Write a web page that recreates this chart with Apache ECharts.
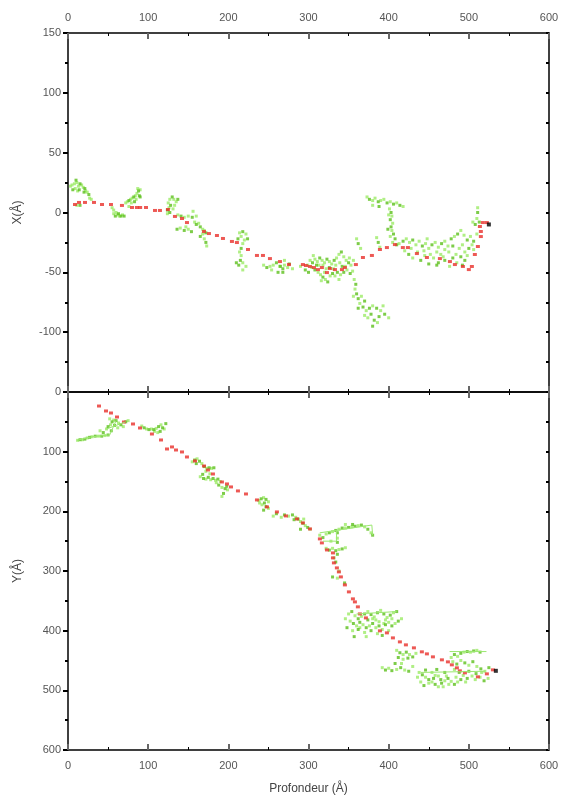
<!DOCTYPE html>
<html><head><meta charset="utf-8">
<script src="https://cdn.jsdelivr.net/npm/echarts@6/dist/echarts.min.js"></script>
<style>html,body{margin:0;padding:0;background:#fff}#c{width:563px;height:796px}</style>
</head><body><div id="c"></div>
<script>
// ---- axis ticks ----
const xTicks = [0, 100, 200, 300, 400, 500, 600];
const topYRange = [-150, 150];
const botYRange = [0, 600];

// ---- top panel (X vs depth) ----
const topRed = [[8.7,6.7],[13.7,8.4],[21.2,8.4],[32.4,8.4],[42.4,6.7],[53.6,6.7],[67.3,5.9],[79.8,4.2],[86,4.2],[90,4.2],[97.3,4.2],[108.5,1.7],[114.7,1.7],[124.7,2.5],[133.4,-3.3],[142.2,-5],[148.4,-8.4],[169.6,-15.9],[175.8,-17.6],[185.8,-19.2],[193.3,-21.7],[204.5,-24.2],[210.7,-25.1],[224.5,-30.9],[235.7,-35.9],[243.2,-35.9],[251.9,-38.5],[264.4,-41],[275.6,-43.5],[293,-43.5],[296.8,-44.3],[301.8,-45.1],[306.8,-46],[311.8,-47.7],[316.7,-46],[323,-50.2],[326.7,-46.8],[333,-47.7],[341.7,-47.7],[345.4,-46],[359.1,-43.5],[367.9,-37.6],[379.1,-35.9],[389.1,-30.9],[397.8,-29.3],[407.8,-26.8],[417.7,-29.3],[424,-29.3],[435.2,-34.3],[447.7,-37.6],[463.9,-38.5],[476.4,-41],[482.6,-43.5],[492.6,-45.1],[500,-47.7],[503.8,-45.1],[507.5,-35.1],[511.3,-28.4],[515,-20.1],[515,-15.9],[513.8,-11.7],[517.5,-8.4],[522.5,-8.4]];
const topEnd = [[525,-10]];
const topGreenLight = [[3,22],[5,23],[8,24],[11,25],[13,22],[17,23],[19,21],[22,18],[24,17],[27,12],[29,11],[9,20],[12,18],[11,6],
[55,4],[57,2],[57,-1],[62,-2],[64,-3],[68,-2],[60,0],
[72,8],[74,9],[78,11],[80,12],[84,14],[86,16],[90,19],[85,11],[79,8],[87,20],[76,5],
[125,8],[127,11],[132,11],[135,9],[133,6],[126,4],[124,-1],[131,3],
[137,-2],[145,-4],[150,-3],[160,-3],[156,1],[158,-8],[163,-9],[168,-14],[170,-15],[168,-18],[170,-22],[173,-28],[140,-13],[150,-14],[147,-12],
[214,-17],[222,-18],[216,-20],[220,-23],[218,-26],[214,-33],[216,-36],[218,-42],[218,-48],[222,-45],
[244,-44],[252,-45],[256,-44],[264,-45],[270,-44],[274,-46],[254,-48],
[302,-40],[308,-39],[311,-41],[317,-40],[320,-42],[326,-41],[329,-43],[335,-38],[338,-35],[344,-37],[347,-40],[353,-44],[356,-40],[304,-46],[312,-50],[315,-52],[321,-56],[327,-53],[333,-53],[340,-52],[348,-48],[355,-49],[318,-44],[334,-44],[299,-44],[290,-45],[270,-40],[280,-47],[360,-22],[365,-30],[385,-21],[389,-29],
[306,-36],[313,-44],[322,-47],[331,-47],[339,-42],[346,-45],[351,-38],[316,-57],[320,-50],[338,-56],
[357,-56],[358,-64],[356,-70],[366,-70],[364,-76],[372,-82],[380,-78],[390,-82],[400,-88],[374,-88],[386,-92],[370,-86],[393,-78],
[373,13],[380,10],[383,12],[390,10],[394,11],[402,9],[410,8],[418,5],[380,6],[401,3],[404,-3],[405,-9],[404,-15],[402,-20],[405,-25],[400,-2],
[413,-26],[422,-22],[426,-25],[434,-27],[438,-24],[446,-26],[450,-30],[458,-25],[462,-29],[470,-24],[474,-28],[482,-20],[490,-15],[494,-19],[502,-20],[510,-18],[420,-32],[430,-38],[436,-33],[445,-36],[456,-38],[465,-35],[475,-33],[485,-42],[495,-33],[504,-27],[488,-30],[470,-31],[476,-45],[510,-5],[511,4],[505,-8],
[428,-30],[444,-32],[452,-35],[468,-37],[484,-35],[498,-36],[506,-31],[460,-33],[448,-22],[492,-27]];
const topGreenDark = [[10,27],[15,24],[21,20],[26,15],[6,19],[14,19],[20,17],[15,6],
[59,-3],[66,-3],[70,-3],[63,-1],
[76,10],[82,13],[88,18],[83,9],[89,14],[90,13],
[130,13],[137,11],[128,6],[124,2],[127,0],
[141,-3],[155,-4],[160,-10],[165,-12],[172,-17],[165,-20],[172,-25],[136,-14],[145,-15],[154,-16],
[218,-16],[212,-22],[224,-22],[216,-30],[215,-40],[213,-44],[210,-42],
[248,-46],[260,-42],[268,-47],[262,-50],
[305,-42],[314,-38],[323,-39],[332,-40],[341,-33],[350,-42],[308,-48],[318,-54],[324,-58],[330,-51],[336,-50],[344,-50],[352,-51],[310,-44],[326,-46],[342,-45],[296,-48],[300,-50],[265,-45],[276,-43],[268,-50],[362,-26],[387,-25],
[359,-60],[360,-68],[362,-72],[370,-74],[368,-79],[376,-80],[385,-80],[395,-85],[378,-85],[382,-90],[380,-95],[362,-80],[388,-87],
[376,11],[387,9],[398,8],[406,7],[414,6],[388,5],[403,0],[402,-6],[403,-12],[406,-18],[408,-22],[410,-27],[399,-14],
[418,-24],[430,-23],[442,-28],[454,-27],[466,-26],[478,-22],[486,-18],[498,-23],[506,-24],[425,-35],[440,-40],[450,-43],[460,-44],[470,-40],[480,-38],[490,-37],[500,-30],[480,-28],[495,-40],[462,-42],[492,-44],[511,0],[513,-8],[508,-10]];

// ---- bottom panel (Y vs depth) ----
const botRed = [[38.7,23.5],[47.4,31.8],[53.6,35.2],[61.1,41.9],[69.8,50.3],[81.1,53.6],[89.8,60.3],[104.7,70.4],[116,80.4],[123.5,95.5],[129.7,92.1],[134.7,97.2],[142.2,100.5],[148.4,108.9],[158.4,115.6],[169.6,124],[174.6,130.7],[180.8,137.4],[192,150.8],[198.3,154.1],[203.3,159.1],[212,165.8],[222,170.9],[235.7,180.9],[248.2,192.6],[260.6,201],[271.8,207.7],[285.6,212.7],[293,219.4],[301.8,229.5],[314.2,246.2],[316.7,252.9],[323,264.7],[330.5,269.7],[330.5,278],[331.7,286.4],[335.4,294.8],[337.9,301.5],[340.4,309.9],[345.4,323.3],[350.4,335],[355.4,346.7],[357.9,351.8],[361.6,360.1],[364.1,371.9],[371.6,378.6],[389.1,400.3],[397.8,403.7],[405.3,412.1],[414,418.8],[421.5,423.8],[431.5,428.8],[441.4,435.5],[447.7,438.9],[455.2,443.9],[466.4,448.9],[473.9,452.3],[478.8,457.3],[485.1,462.3],[488.8,467.3],[495.1,470.7],[511.3,477.4],[522.5,472.4],[530,465.7]];
const botEnd = [[533.7,467.3]];
const botGreenLight = [[12,81],[18,80],[24,77],[30,75],[38,74],[46,73],[40,65],[48,62],[53,55],[57,47],[63,52],[69,58],[75,48],[62,60],[52,45],
[92,57],[98,62],[104,62],[110,61],[116,55],[120,62],[112,68],[108,66],
[155,117],[161,112],[167,120],[173,128],[179,128],[172,133],[165,142],[172,146],[178,147],[184,148],[190,150],[192,160],[199,164],[192,175],[185,152],[177,137],
[238,182],[244,177],[250,184],[242,189],[250,195],[239,186],
[256,208],[266,210],[275,208],[284,210],[290,217],[296,224],[302,230],[294,213],
[314,240],[322,238],[330,234],[338,230],[346,228],[354,226],[362,224],[370,226],[378,236],[336,245],[346,222],[328,250],
[322,262],[330,262],[338,264],[346,261],[332,278],[338,300],[336,312],
[350,372],[358,375],[366,376],[374,368],[382,377],[390,366],[398,378],[406,370],[352,384],[360,392],[368,390],[376,392],[384,395],[392,398],[400,386],[408,388],[416,380],[355,400],[370,403],[386,405],[400,400],[384,382],[396,382],[346,380],
[364,395],[380,380],[394,388],[404,380],[372,410],[388,385],
[410,433],[418,440],[426,440],[434,438],[418,448],[392,462],[400,463],[410,465],[420,466],[430,460],[416,455],
[478,445],[486,443],[494,436],[502,436],[510,433],[480,452],[490,450],[500,458],[510,460],[520,468],[482,465],[493,475],[504,476],[514,478],[524,480],[438,470],[446,478],[454,486],[462,494],[470,484],[478,485],[486,486],[440,486],[450,488],[462,476],[475,490],[436,478],[454,470],
[458,475],[472,476],[496,486],[508,482],[516,470],[468,494],[484,478]];
const botGreenDark = [[15,80],[21,79],[27,76],[34,74],[42,74],[50,72],[44,68],[50,58],[55,50],[60,48],[66,55],[72,50],[58,56],[54,65],
[95,60],[101,63],[107,63],[113,58],[118,60],[115,66],[122,53],
[158,114],[164,116],[170,125],[176,127],[182,127],[168,138],[169,145],[175,143],[181,145],[187,146],[188,156],[196,162],[194,170],[198,158],[160,120],
[241,179],[247,180],[245,186],[247,192],[244,198],
[260,204],[270,206],[280,206],[287,213],[293,220],[299,227],[290,230],[282,214],
[318,244],[326,236],[334,232],[342,228],[350,227],[358,225],[366,223],[374,230],[380,240],[336,236],[355,222],[336,252],
[326,265],[334,266],[342,263],[336,272],[334,285],[330,310],[345,320],
[354,368],[362,380],[370,372],[378,373],[386,370],[394,372],[402,374],[410,368],[356,388],[364,386],[372,395],[380,388],[388,392],[396,390],[404,392],[412,384],[348,395],[362,398],[378,400],[392,408],[374,382],[357,410],
[414,437],[422,436],[430,444],[412,445],[424,446],[396,466],[404,467],[415,462],[425,468],[408,455],
[482,440],[490,438],[498,435],[506,434],[514,436],[485,456],[495,454],[505,452],[515,464],[525,462],[488,470],[498,480],[509,472],[519,484],[500,468],[442,474],[450,482],[458,490],[466,488],[474,480],[482,490],[490,482],[444,492],[456,480],[470,470],[465,482],[446,466],[460,465]];
const botLinks = [
  [[11,81],[30,75],[52,72],[60,48]],
  [[72,50],[48,62]],
  [[314,236],[379,223],[380,240]],
  [[318,250],[335,250],[335,231]],
  [[476,435],[522,435]],
  [[440,470],[520,468]],
  [[360,372],[410,368]]
];

const LBL = {color:'#555', fontSize:11, fontFamily:'Liberation Sans, Arial, sans-serif'};
const NAME = {color:'#444', fontSize:12, fontFamily:'Liberation Sans, Arial, sans-serif'};
const line = {show:true, onZero:false, lineStyle:{color:'#000', width:1.5}};

function xAx(grid, pos, labels, extra) {
  return Object.assign({
    type:'value', gridIndex:grid, position:pos, min:xTicks[0], max:xTicks[xTicks.length-1], interval:100,
    axisLine:line,
    axisTick:{show:true, inside:true, length:6, lineStyle:{color:'#666', width:2}},
    minorTick:{show:true, splitNumber:2, length:3, lineStyle:{color:'#000', width:1}},
    axisLabel:Object.assign({show:labels, margin:labels?10:0}, LBL),
    splitLine:{show:false}, minorSplitLine:{show:false}
  }, extra||{});
}

const chart = echarts.init(document.getElementById('c'), null, {renderer:'canvas'});
const sq = (c, s) => ({type:'scatter', symbol:'rect', symbolSize:s, itemStyle:{color:c}, silent:true, animation:false});

const series = [];
botLinks.forEach(seg => series.push({type:'line', xAxisIndex:3, yAxisIndex:2, data:seg, showSymbol:false, symbol:'none', lineStyle:{color:'#9be870', width:1}, silent:true, animation:false}));
series.push(Object.assign(sq('#9ceb66',[3,3]), {xAxisIndex:0, yAxisIndex:0, data:topGreenLight}));
series.push(Object.assign(sq('#5cbf1c',[3,3]), {xAxisIndex:0, yAxisIndex:0, data:topGreenDark}));
series.push(Object.assign(sq('#e8302a',[4,3]), {xAxisIndex:0, yAxisIndex:0, data:topRed}));
series.push(Object.assign(sq('#000',[4,4]), {xAxisIndex:0, yAxisIndex:0, data:topEnd}));
series.push(Object.assign(sq('#9ceb66',[3,3]), {xAxisIndex:3, yAxisIndex:2, data:botGreenLight}));
series.push(Object.assign(sq('#5cbf1c',[3,3]), {xAxisIndex:3, yAxisIndex:2, data:botGreenDark}));
series.push(Object.assign(sq('#e8302a',[4,3]), {xAxisIndex:3, yAxisIndex:2, data:botRed}));
series.push(Object.assign(sq('#000',[4,4]), {xAxisIndex:3, yAxisIndex:2, data:botEnd}));

chart.setOption({
  animation:false,
  backgroundColor:'#fff',
  grid:[
    {left:68, right:14, top:33, height:359},
    {left:68, right:14, top:392, height:358}
  ],
  xAxis:[
    xAx(0,'top',true),
    xAx(0,'bottom',false),
    xAx(1,'top',false),
    xAx(1,'bottom',true,{name:'Profondeur (Å)', nameLocation:'middle', nameGap:33, nameTextStyle:NAME})
  ],
  yAxis:[
    {type:'value', gridIndex:0, position:'left', min:topYRange[0], max:topYRange[1], interval:50,
     name:'X(Å)', nameLocation:'middle', nameGap:44, nameTextStyle:NAME,
     axisLine:line, axisTick:{show:true, inside:false, length:5, lineStyle:{color:'#000', width:2}},
     minorTick:{show:true, splitNumber:2, length:3, lineStyle:{color:'#000', width:2}},
     axisLabel:Object.assign({margin:7, formatter:v => v === topYRange[0] ? '' : String(v)}, LBL),
     splitLine:{show:false}, minorSplitLine:{show:false}},
    {type:'value', gridIndex:0, position:'right', min:topYRange[0], max:topYRange[1], interval:25,
     axisLine:line, axisTick:{show:true, inside:true, length:3, lineStyle:{color:'#000', width:2}},
     axisLabel:{show:false}, splitLine:{show:false}},
    {type:'value', gridIndex:1, position:'left', inverse:true, min:botYRange[0], max:botYRange[1], interval:100,
     name:'Y(Å)', nameLocation:'middle', nameGap:44, nameTextStyle:NAME,
     axisLine:line, axisTick:{show:true, inside:false, length:5, lineStyle:{color:'#000', width:2}},
     minorTick:{show:true, splitNumber:2, length:3, lineStyle:{color:'#000', width:2}},
     axisLabel:Object.assign({margin:7}, LBL),
     splitLine:{show:false}, minorSplitLine:{show:false}},
    {type:'value', gridIndex:1, position:'right', inverse:true, min:botYRange[0], max:botYRange[1], interval:50,
     axisLine:line, axisTick:{show:true, inside:true, length:3, lineStyle:{color:'#000', width:2}},
     axisLabel:{show:false}, splitLine:{show:false}}
  ],
  series: series
});
</script></body></html>
